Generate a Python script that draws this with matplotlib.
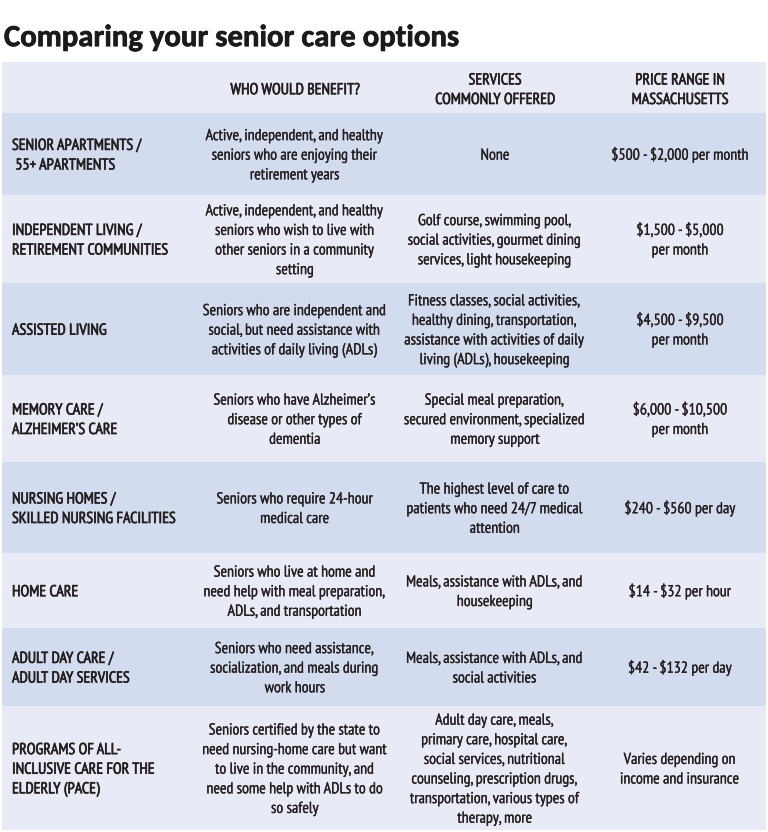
import matplotlib
matplotlib.use("Agg")
import matplotlib.pyplot as plt
from matplotlib.patches import Rectangle
from matplotlib import font_manager
import matplotlib.patheffects as pe

title = "Comparing your senior care options"
headers = ["", "WHO WOULD BENEFIT?", "SERVICES\nCOMMONLY OFFERED", "PRICE RANGE IN\nMASSACHUSETTS"]
care_types = [
    "SENIOR APARTMENTS /\n 55+ APARTMENTS",
    "INDEPENDENT LIVING /\nRETIREMENT COMMUNITIES",
    "ASSISTED LIVING",
    "MEMORY CARE /\nALZHEIMER\u2019S CARE",
    "NURSING HOMES /\nSKILLED NURSING FACILITIES",
    "HOME CARE",
    "ADULT DAY CARE /\nADULT DAY SERVICES",
    "PROGRAMS OF ALL-\nINCLUSIVE CARE FOR THE\nELDERLY (PACE)",
]
who_benefits = [
    "Active, independent, and healthy\nseniors who are enjoying their\nretirement years",
    "Active, independent, and healthy\nseniors who wish to live with\nother seniors in a community\nsetting",
    "Seniors who are independent and\nsocial, but need assistance with\nactivities of daily living (ADLs)",
    "Seniors who have Alzheimer\u2019s\ndisease or other types of\ndementia",
    "Seniors who require 24-hour\nmedical care",
    "Seniors who live at home and\nneed help with meal preparation,\nADLs, and transportation",
    "Seniors who need assistance,\nsocialization, and meals during\nwork hours",
    "Seniors certified by the state to\nneed nursing-home care but want\nto live in the community, and\nneed some help with ADLs to do\nso safely",
]
services = [
    "None",
    "Golf course, swimming pool,\nsocial activities, gourmet dining\nservices, light housekeeping",
    "Fitness classes, social activities,\nhealthy dining, transportation,\nassistance with activities of daily\nliving (ADLs), housekeeping",
    "Special meal preparation,\nsecured environment, specialized\nmemory support",
    "The highest level of care to\npatients who need 24/7 medical\nattention",
    "Meals, assistance with ADLs, and\nhousekeeping",
    "Meals, assistance with ADLs, and\nsocial activities",
    "Adult day care, meals,\nprimary care, hospital care,\nsocial services, nutritional\ncounseling, prescription drugs,\ntransportation, various types of\ntherapy, more",
]
prices = [
    "$500 - $2,000 per month",
    "$1,500 - $5,000\nper month",
    "$4,500 - $9,500\nper month",
    "$6,000 - $10,500\nper month",
    "$240 - $560 per day",
    "$14 - $32 per hour",
    "$42 - $132 per day",
    "Varies depending on\nincome and insurance",
]

W, H = 768, 832
fig = plt.figure(figsize=(W / 100, H / 100), dpi=100)
ax = fig.add_axes([0, 0, 1, 1])
ax.set_xlim(0, W)
ax.set_ylim(H, 0)
ax.axis("off")
renderer = fig.canvas.get_renderer()

avail = {f.name for f in font_manager.fontManager.ttflist}


def pick(prefs):
    for p in prefs:
        if p in avail:
            return p
    return "DejaVu Sans"


body_font = pick(["PT Sans Narrow", "Fira Sans Condensed", "Roboto Condensed", "Liberation Sans Narrow", "Roboto"])
title_font = pick(["Carlito", "PT Sans", "Open Sans"])


def fit_size(text, family, weight, target_w, base=10.0):
    t = ax.text(0, 0, text, family=family, fontweight=weight, fontsize=base)
    w = t.get_window_extent(renderer).width
    t.remove()
    return base * target_w / w


body_fs = fit_size("Active, independent, and healthy", body_font, "normal", 178)
title_fs = fit_size(title, title_font, "bold", 455)

row_edges = [62, 113, 195, 283, 375, 462, 553, 628, 706, 830]
light = "#e8ebf5"
dark = "#d3dbee"
x0, x1 = 2, 766
for i in range(len(row_edges) - 1):
    color = light if i % 2 == 0 else dark
    ax.add_patch(Rectangle((x0, row_edges[i]), x1 - x0, row_edges[i + 1] - row_edges[i],
                           facecolor=color, edgecolor="none"))

title_px = title_fs * 100 / 72
ax.text(4, 36 + 0.33 * title_px, title, fontsize=title_fs, fontweight="bold",
        family=title_font, va="baseline", ha="left", color="#1b1b1b",
        path_effects=[pe.withStroke(linewidth=0.5, foreground="#1b1b1b")])

col_x = [12, 295, 495, 680]
pitch = 19.6
size_px = body_fs * 100 / 72
text_color = "#231f20"


def cell(x, yc, text, ha, stroke):
    lines = text.split("\n")
    n = len(lines)
    for k, line in enumerate(lines):
        y = yc + (k - (n - 1) / 2) * pitch + 0.36 * size_px
        ax.text(x, y, line, ha=ha, va="baseline", family=body_font, fontsize=body_fs,
                color=text_color, parse_math=False,
                path_effects=[pe.withStroke(linewidth=stroke, foreground=text_color)])


hy = (row_edges[0] + row_edges[1]) / 2 + 1
for j in range(1, 4):
    cell(col_x[j], hy, headers[j], "center", 0.45)

for i in range(len(care_types)):
    yc = (row_edges[i + 1] + row_edges[i + 2]) / 2
    cell(col_x[0], yc, care_types[i], "left", 0.45)
    cell(col_x[1], yc, who_benefits[i], "center", 0.2)
    cell(col_x[2], yc, services[i], "center", 0.2)
    cell(col_x[3], yc, prices[i], "center", 0.2)

fig.savefig("out.png", dpi=100, facecolor="white")
